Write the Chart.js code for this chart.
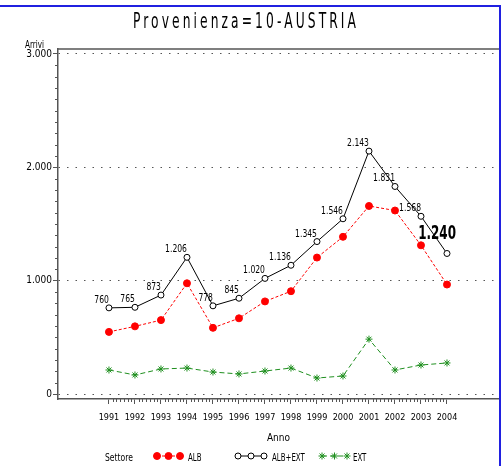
<!DOCTYPE html>
<html>
<head>
<meta charset="utf-8">
<script src="https://cdn.jsdelivr.net/npm/chart.js@4.4.0/dist/chart.umd.min.js"></script>
<style>
  html, body { margin: 0; padding: 0; background: #fff; }
  canvas { display: block; }
</style>
</head>
<body>
<canvas id="chart" width="504" height="466"></canvas>
<script>
// values
const years = [1991, 1992, 1993, 1994, 1995, 1996, 1997, 1998, 1999, 2000, 2001, 2002, 2003, 2004];
const alb = [548, 597, 652, 977, 584, 668, 817, 907, 1204, 1387, 1659, 1619, 1312, 966];
const albExt = [760, 765, 873, 1206, 778, 845, 1020, 1136, 1345, 1546, 2143, 1831, 1568, 1240];
const ext = [212, 168, 221, 229, 194, 177, 203, 229, 141, 159, 484, 212, 256, 274];
const yTicks = [0, 1000, 2000, 3000];
const seriesNames = ["ALB", "ALB+EXT", "EXT"];
const titleText = "Provenienza=10-AUSTRIA";

const NARROW = '"DejaVu Sans Condensed", "Liberation Sans", sans-serif';
const AXIS = "#555";
const RED = "#ff0000";
const GREEN = "#1f8f1f";

function fmt(n) {
  return String(n).replace(/\B(?=(\d{3})+(?!\d))/g, ".");
}

function toPoints(values) {
  return years.map((y, i) => ({ x: y, y: values[i] }));
}

// text squeezed horizontally, to get the narrow SAS look
function squeezed(ctx, text, x, y, sx) {
  ctx.save();
  ctx.translate(x, y);
  ctx.scale(sx, 1);
  ctx.fillText(text, 0, 0);
  ctx.restore();
}

// extras: title, frame, minor ticks, value labels, legend
const decorations = {
  id: "decorations",
  afterDraw(chart) {
    const ctx = chart.ctx;
    const area = chart.chartArea;
    const xs = chart.scales.x;
    const ys = chart.scales.y;

    ctx.save();
    ctx.textBaseline = "alphabetic";

    // title
    ctx.fillStyle = "#000";
    ctx.font = "22px " + NARROW;
    ctx.textAlign = "center";
    ctx.save();
    ctx.translate(246, 28);
    ctx.scale(0.62, 1);
    ctx.letterSpacing = "5px";
    ctx.fillText(titleText, 0, 0);
    ctx.restore();

    // top frame line
    ctx.strokeStyle = AXIS;
    ctx.lineWidth = 1.5;
    ctx.beginPath();
    ctx.moveTo(area.left, area.top);
    ctx.lineTo(area.right, area.top);
    ctx.stroke();

    // minor ticks
    ctx.lineWidth = 1;
    ctx.beginPath();
    for (let i = 0; i < years.length - 1; i++) {
      for (let k = 1; k < 7; k++) {
        const px = Math.round(xs.getPixelForValue(years[i] + k / 7)) + 0.5;
        ctx.moveTo(px, area.bottom);
        ctx.lineTo(px, area.bottom + 3);
      }
    }
    for (let v = 100; v < 3000; v += 100) {
      if (v % 1000 === 0) continue;
      const py = Math.round(ys.getPixelForValue(v)) + 0.5;
      ctx.moveTo(area.left - 3, py);
      ctx.lineTo(area.left, py);
    }
    ctx.stroke();

    // "Arrivi"
    ctx.fillStyle = "#000";
    ctx.font = "10px " + NARROW;
    ctx.textAlign = "right";
    squeezed(ctx, "Arrivi", 44, 48, 0.8);

    // value labels on ALB+EXT
    const meta = chart.getDatasetMeta(1);
    meta.data.forEach((pt, i) => {
      if (i === meta.data.length - 1) {
        ctx.font = "bold 19px " + NARROW;
        squeezed(ctx, fmt(albExt[i]), pt.x + 9, pt.y - 14, 0.7);
      } else {
        ctx.font = "10px " + NARROW;
        squeezed(ctx, fmt(albExt[i]), pt.x, pt.y - 5, 0.85);
      }
    });

    // legend
    ctx.textAlign = "left";
    ctx.font = "10px " + NARROW;
    squeezed(ctx, "Settore", 105, 461, 0.85);
    const ly = 456;
    const entries = [
      { x0: 157, x1: 180, tx: 188 },
      { x0: 238, x1: 264, tx: 272 },
      { x0: 322, x1: 347, tx: 353 }
    ];
    chart.data.datasets.forEach((ds, i) => {
      const e = entries[i];
      ctx.strokeStyle = ds.borderColor;
      ctx.lineWidth = 1;
      ctx.setLineDash(ds.borderDash || []);
      ctx.beginPath();
      ctx.moveTo(e.x0, ly);
      ctx.lineTo(e.x1, ly);
      ctx.stroke();
      ctx.setLineDash([]);
      ctx.fillStyle = ds.pointBackgroundColor;
      ctx.strokeStyle = ds.pointBorderColor;
      ctx.lineWidth = ds.pointBorderWidth;
      [e.x0, (e.x0 + e.x1) / 2, e.x1].forEach((px) => {
        Chart.helpers.drawPoint(ctx, {
          pointStyle: ds.pointStyle,
          radius: ds.pointRadius,
          rotation: 0,
          borderWidth: ds.pointBorderWidth
        }, px, ly);
      });
      ctx.fillStyle = "#000";
      squeezed(ctx, ds.label, e.tx, 461, 0.78);
    });

    // blue page frame
    ctx.strokeStyle = "#2020e0";
    ctx.lineWidth = 2;
    ctx.beginPath();
    ctx.moveTo(0, 6);
    ctx.lineTo(500, 6);
    ctx.moveTo(500, 5);
    ctx.lineTo(500, 466);
    ctx.stroke();

    ctx.restore();
  }
};

new Chart(document.getElementById("chart"), {
  type: "line",
  data: {
    datasets: [
      {
        label: seriesNames[0],
        data: toPoints(alb),
        borderColor: RED,
        borderWidth: 1,
        borderDash: [3, 2],
        pointStyle: "circle",
        pointRadius: 3.5,
        pointBackgroundColor: RED,
        pointBorderColor: RED,
        pointBorderWidth: 1
      },
      {
        label: seriesNames[1],
        data: toPoints(albExt),
        borderColor: "#000",
        borderWidth: 1,
        pointStyle: "circle",
        pointRadius: 3,
        pointBackgroundColor: "#fff",
        pointBorderColor: "#000",
        pointBorderWidth: 1
      },
      {
        label: seriesNames[2],
        data: toPoints(ext),
        borderColor: GREEN,
        borderWidth: 1,
        borderDash: [5, 3],
        pointStyle: "star",
        pointRadius: 3.5,
        pointBackgroundColor: GREEN,
        pointBorderColor: GREEN,
        pointBorderWidth: 1
      }
    ]
  },
  options: {
    responsive: false,
    animation: false,
    events: [],
    layout: { padding: { top: 49, right: 5, bottom: 0, left: 0 } },
    plugins: {
      legend: { display: false },
      title: { display: false },
      tooltip: { enabled: false }
    },
    scales: {
      x: {
        type: "linear",
        min: 1989.04,
        max: 2006,
        afterBuildTicks: (scale) => {
          scale.ticks = years.map((v) => ({ value: v }));
        },
        afterFit: (scale) => { scale.height = 67; },
        ticks: {
          autoSkip: false,
          maxRotation: 0,
          padding: 8,
          color: "#000",
          font: { family: NARROW, size: 9 },
          callback: (v) => String(v)
        },
        grid: {
          drawOnChartArea: false,
          drawTicks: true,
          tickLength: 5,
          tickColor: AXIS
        },
        border: { display: true, color: AXIS, width: 1.5 },
        title: {
          display: true,
          text: "Anno",
          color: "#000",
          font: { family: NARROW, size: 10 },
          padding: { top: 0, bottom: 22 }
        }
      },
      y: {
        min: -44,
        max: 3044,
        afterBuildTicks: (scale) => {
          scale.ticks = yTicks.map((v) => ({ value: v }));
        },
        afterFit: (scale) => { scale.width = 58; },
        ticks: {
          padding: 1,
          color: "#000",
          font: { family: NARROW, size: 10 },
          callback: (v) => fmt(v)
        },
        grid: {
          color: AXIS,
          lineWidth: 1,
          tickLength: 5,
          tickColor: AXIS
        },
        border: { display: true, color: AXIS, width: 1.5, dash: [1.5, 7] }
      }
    }
  },
  plugins: [decorations]
});
</script>
</body>
</html>
